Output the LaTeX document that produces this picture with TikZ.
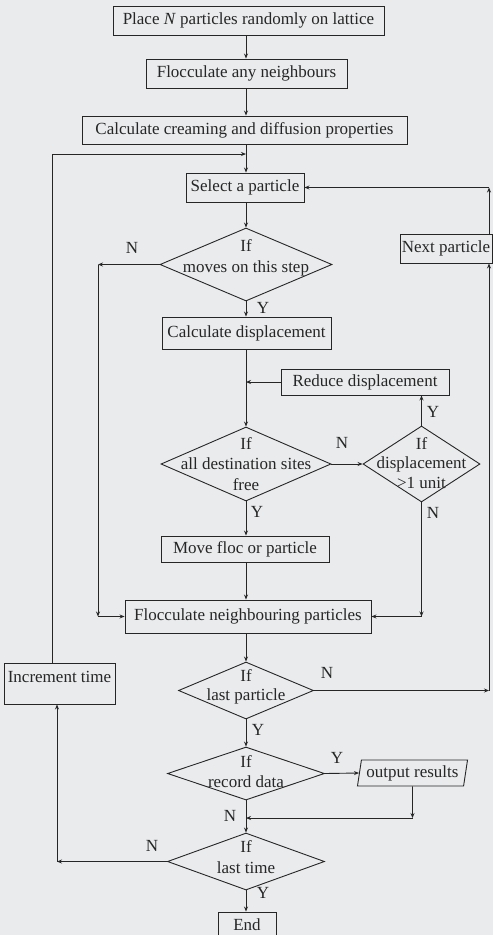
\documentclass[tikz,border=0pt]{standalone}
\usepackage{fontspec}
\setmainfont{Liberation Serif}
\usetikzlibrary{shapes.geometric,arrows.meta}
\definecolor{bg}{RGB}{233,235,237}
\definecolor{ink}{RGB}{38,38,38}
\begin{document}
\begin{tikzpicture}[x=1pt,y=-1pt,
  font=\fontsize{17}{21}\selectfont,
  box/.style={draw=ink, line width=0.9pt, rectangle, inner sep=0pt, text=ink},
  dia/.style={draw=ink, line width=0.9pt, diamond, inner sep=0pt},
  para/.style={draw=ink, line width=0.9pt, trapezium, trapezium left angle=77, trapezium right angle=103, trapezium stretches=true, inner sep=0pt, text=ink},
  txt/.style={text=ink, inner sep=0pt, align=center},
  lbl/.style={text=ink, inner sep=0pt},
  ln/.style={draw=ink, line width=0.9pt},
  arr/.style={draw=ink, line width=0.9pt, -{Stealth[length=5pt,width=4pt]}}]
\fill[bg] (0,0) rectangle (493,935);
\useasboundingbox (0,0) rectangle (493,935);
\coordinate (m) at (246,0);
% boxes
\node[box, minimum width=271pt, minimum height=29pt] (b1) at (248.5,20.5) {Place \textit{N} particles randomly on lattice};
\node[box, minimum width=201pt, minimum height=29pt] (b2) at (246.5,73.5) {Flocculate any neighbours};
\node[box, minimum width=325pt, minimum height=28pt] (b3) at (244.5,130) {Calculate creaming and diffusion properties};
\node[box, minimum width=118pt, minimum height=29pt] (sel) at (245,187.5) {Select a particle};
\node[box, minimum width=169pt, minimum height=32pt] (calc) at (246.5,333) {Calculate displacement};
\node[box, minimum width=168pt, minimum height=26pt] (red) at (365,382) {Reduce displacement};
\node[box, minimum width=92pt, minimum height=29pt] (next) at (446,248.5) {Next particle};
\node[box, minimum width=168pt, minimum height=26pt] (move) at (245,549) {Move floc or particle};
\node[box, minimum width=246pt, minimum height=33pt] (floc) at (248,616.5) {Flocculate neighbouring particles};
\node[box, minimum width=111pt, minimum height=41pt] (inc) at (59.5,683.5) {};
\node[txt] at (59.5,677) {Increment time};
\node[box, minimum width=58pt, minimum height=30pt] (end) at (247,927) {};
\node[txt] at (247,925) {End};
\node[para, minimum width=111pt, minimum height=26pt] (out) at (412.5,773) {output results};
% diamonds
\node[dia, minimum width=172pt, minimum height=73pt] (d1) at (246,264.5) {};
\node[txt] at (246,258) {If\\moves on this step};
\node[dia, minimum width=170pt, minimum height=74pt] (d2) at (246,464) {};
\node[txt, font=\fontsize{17}{20.5}\selectfont] at (246,464) {If\\all destination sites\\free};
\node[dia, minimum width=117pt, minimum height=76pt] (d3) at (421.5,464) {};
\node[txt, font=\fontsize{17}{19.5}\selectfont] at (421.5,463) {If\\displacement\\>1 unit};
\node[dia, minimum width=135pt, minimum height=57pt] (d4) at (246,690.5) {};
\node[txt, font=\fontsize{17}{19.5}\selectfont] at (246,687) {If\\last particle};
\node[dia, minimum width=157pt, minimum height=53pt] (d5) at (246,773.5) {};
\node[txt, font=\fontsize{17}{20}\selectfont] at (246,772) {If\\record data};
\node[dia, minimum width=157pt, minimum height=57pt] (d6) at (246,861.5) {};
\node[txt] at (246,857.5) {If\\last time};
% junction coordinates
\coordinate (j1) at (246,154);
\coordinate (c8) at (52,154);
\coordinate (j2) at (246,382);
\coordinate (cL1) at (98,264.5);
\coordinate (cL2) at (98,616.5);
\coordinate (cR) at (421.5,616.5);
\coordinate (c4) at (489,690.5);
\coordinate (c5) at (489,187.5);
\coordinate (c6) at (412.5,818);
\coordinate (j3) at (246,818);
\coordinate (c7) at (57,861.5);
% main flow
\draw[arr] (b1.south -| m) -- (b2.north -| m);
\draw[arr] (b2.south -| m) -- (b3.north -| m);
\draw[arr] (b3.south -| m) -- (sel.north -| m);
\draw[arr] (sel.south -| m) -- (d1.north);
\draw[arr] (d1.south) -- (calc.north -| m);
\draw[arr] (calc.south -| m) -- (d2.north);
\draw[arr] (red.west) -- (j2);
\draw[arr] (d2.east) -- (d3.west);
\draw[arr] (d3.north) -- (red.south -| d3.north);
\draw[arr] (d3.south) -- (cR);
\draw[arr] (cR) -- (floc.east);
\draw[arr] (d2.south) -- (move.north -| m);
\draw[arr] (move.south -| m) -- (floc.north -| m);
\draw[arr] (d1.west) -- (cL1);
\draw[arr] (cL1) -- (cL2);
\draw[arr] (cL2) -- (floc.west);
\draw[arr] (floc.south -| m) -- (d4.north);
\draw[arr] (d4.east) -- (c4);
\draw[arr] (c4) -- (c4 |- next.south);
\draw[arr] (c4 |- next.north) -- (c5);
\draw[arr] (c5) -- (sel.east);
\draw[arr] (d4.south) -- (d5.north);
\draw[arr] (d5.east) -- (out.west);
\draw[arr] (out.south) -- (c6);
\draw[arr] (c6) -- (j3);
\draw[arr] (d5.south) -- (d6.north);
\draw[arr] (d6.west) -- (c7);
\draw[arr] (c7) -- (c7 |- inc.south);
\draw[ln] (c8 |- inc.north) -- (c8);
\draw[arr] (c8) -- (j1);
\draw[arr] (d6.south) -- (end.north -| m);
% labels
\node[lbl] at (132,248) {N};
\node[lbl] at (263,308) {Y};
\node[lbl] at (342,443) {N};
\node[lbl] at (433,412) {Y};
\node[lbl] at (433,513) {N};
\node[lbl] at (257,512) {Y};
\node[lbl] at (327,673) {N};
\node[lbl] at (258,730) {Y};
\node[lbl] at (337,758) {Y};
\node[lbl] at (230,816) {N};
\node[lbl] at (152,846) {N};
\node[lbl] at (263,893) {Y};
\end{tikzpicture}
\end{document}
